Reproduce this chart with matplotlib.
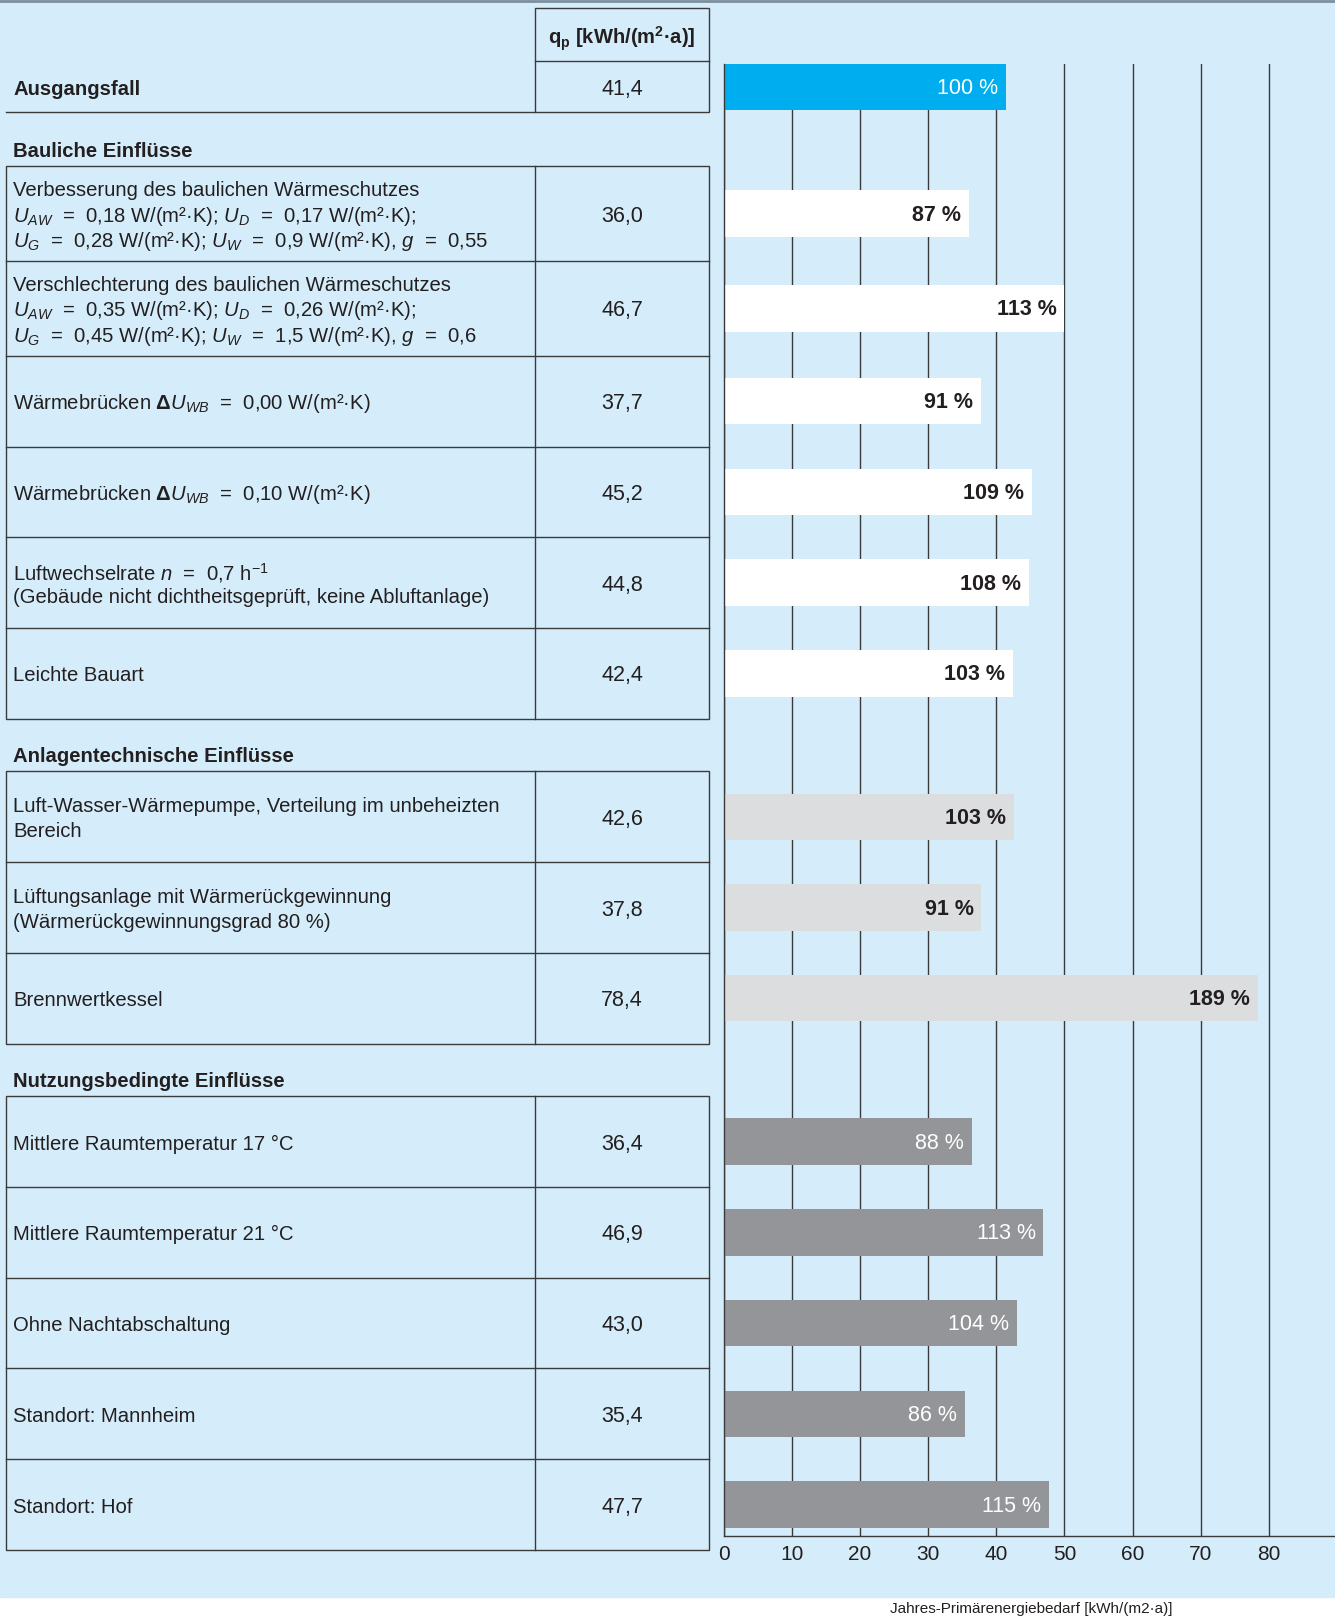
import matplotlib
matplotlib.use('Agg')
import matplotlib.pyplot as plt
from matplotlib.patches import Rectangle

plt.rcParams['font.family'] = ['Liberation Sans', 'DejaVu Sans']
plt.rcParams['mathtext.fontset'] = 'custom'
plt.rcParams['mathtext.rm'] = 'Liberation Sans'
plt.rcParams['mathtext.it'] = 'Liberation Sans:italic'
plt.rcParams['mathtext.bf'] = 'Liberation Sans:bold'

# ---- data ----
group_names = ['Ausgangsfall', 'Bauliche Einflüsse', 'Anlagentechnische Einflüsse',
               'Nutzungsbedingte Einflüsse']
row_lines = [
    ['Ausgangsfall'],
    ['Verbesserung des baulichen Wärmeschutzes',
     r'$U_{AW}$  =  0,18 W/(m²·K); $U_D$  =  0,17 W/(m²·K);',
     r'$U_G$  =  0,28 W/(m²·K); $U_W$  =  0,9 W/(m²·K), $g$  =  0,55'],
    ['Verschlechterung des baulichen Wärmeschutzes',
     r'$U_{AW}$  =  0,35 W/(m²·K); $U_D$  =  0,26 W/(m²·K);',
     r'$U_G$  =  0,45 W/(m²·K); $U_W$  =  1,5 W/(m²·K), $g$  =  0,6'],
    [r'Wärmebrücken $\mathbf{\Delta}U_{WB}$  =  0,00 W/(m²·K)'],
    [r'Wärmebrücken $\mathbf{\Delta}U_{WB}$  =  0,10 W/(m²·K)'],
    [r'Luftwechselrate $n$  =  0,7 h$^{\mathregular{-1}}$',
     '(Gebäude nicht dichtheitsgeprüft, keine Abluftanlage)'],
    ['Leichte Bauart'],
    ['Luft-Wasser-Wärmepumpe, Verteilung im unbeheizten', 'Bereich'],
    ['Lüftungsanlage mit Wärmerückgewinnung', '(Wärmerückgewinnungsgrad 80 %)'],
    ['Brennwertkessel'],
    ['Mittlere Raumtemperatur 17 °C'],
    ['Mittlere Raumtemperatur 21 °C'],
    ['Ohne Nachtabschaltung'],
    ['Standort: Mannheim'],
    ['Standort: Hof'],
]
qp = [41.4, 36.0, 46.7, 37.7, 45.2, 44.8, 42.4, 42.6, 37.8, 78.4, 36.4, 46.9, 43.0, 35.4, 47.7]
# bar lengths as drawn in the picture (the 113 % bar is drawn to ~50)
bar_len = [41.4, 36.0, 50.0, 37.7, 45.2, 44.8, 42.4, 42.6, 37.8, 78.4, 36.4, 46.9, 43.0, 35.4, 47.7]
pct = [100, 87, 113, 91, 109, 108, 103, 103, 91, 189, 88, 113, 104, 86, 115]
group = [0, 1, 1, 1, 1, 1, 1, 2, 2, 2, 3, 3, 3, 3, 3]
xticks = [0, 10, 20, 30, 40, 50, 60, 70, 80]

bar_col = ['#00AEEF', '#FFFFFF', '#DCDDDF', '#939598']
lab_col = ['white', '#231F20', '#231F20', 'white']
lab_wt = ['normal', 'bold', 'bold', 'normal']

bg = '#D5EDFA'
ink = '#231F20'
line = '#3A3A3A'

# ---- layout (in units of a 1295 x 1568 canvas) ----
W, H = 1295, 1568
xl, xm, xr = 6, 519, 688
ax_left = 702
ax_top, ax_bot = 62, 1489
dy = 2.5   # text baseline nudge
fs = 14.6

fig = plt.figure(figsize=(13.35, 16.17), dpi=100)
fig.patch.set_facecolor('white')
at = fig.add_axes([0, 0, 1, 1])
at.set_xlim(0, W)
at.set_ylim(H, 0)
at.axis('off')

at.add_patch(Rectangle((0, 0), W, 1549, color=bg, zorder=0))
at.plot([0, W], [0.8, 0.8], color='#7D8E9E', lw=2, zorder=1)

# header cell
at.add_patch(Rectangle((xm, 8), xr - xm, 101, fill=False, ec=line, lw=1.0, zorder=2))
at.plot([xm, xr], [59, 59], color=line, lw=1.0)
at.plot([xl, xm], [109, 109], color=line, lw=1.0)
at.text((xm + xr) / 2, 35 + dy, r'q$_\mathbf{p}$ [kWh/(m$^\mathbf{2}$·a)]', ha='center', va='center',
        fontsize=14.5, fontweight='bold', color=ink)


def fmt(v):
    return f'{v:.1f}'.replace('.', ',')


centers = []
# first row
centers.append(84)
at.text(13, 84 + dy, row_lines[0][0], ha='left', va='center', fontsize=fs, fontweight='bold', color=ink)
at.text((xm + xr) / 2, 84 + dy, fmt(qp[0]), ha='center', va='center', fontsize=15.5, color=ink)

y = 109
for g in range(1, 4):
    y += 52 if g == 1 else 51
    at.text(13, y - 17 + dy, group_names[g], ha='left', va='center', fontsize=fs,
            fontweight='bold', color=ink)
    top = y
    idx = [i for i in range(len(group)) if group[i] == g]
    for i in idx:
        h = 92 if len(row_lines[i]) == 3 else 88
        c = y + h / 2
        centers.append(c)
        n = len(row_lines[i])
        for k, t in enumerate(row_lines[i]):
            at.text(13, c + dy + (k - (n - 1) / 2) * 24.5, t, ha='left', va='center',
                    fontsize=fs, color=ink)
        at.text((xm + xr) / 2, c + dy, fmt(qp[i]), ha='center', va='center', fontsize=15.5, color=ink)
        y += h
        if i != idx[-1]:
            at.plot([xl, xr], [y, y], color=line, lw=1.0)
    at.add_patch(Rectangle((xl, top), xr - xl, y - top, fill=False, ec=line, lw=1.0, zorder=2))
    at.plot([xm, xm], [top, y], color=line, lw=1.0)

# ---- bar chart ----
ax = fig.add_axes([ax_left / W, 1 - ax_bot / H, 1 - ax_left / W, (ax_bot - ax_top) / H])
ax.patch.set_alpha(0)
ax.set_ylim(ax_bot, ax_top)
ax.set_xlim(0, (W - ax_left) / 6.61)
ax.barh(centers, bar_len, height=45, color=[bar_col[g] for g in group], zorder=2)
for c, v, p, g in zip(centers, bar_len, pct, group):
    ax.annotate(f'{p} %', xy=(v, c + 1.5), xytext=(-5.5, 0), textcoords='offset points',
                ha='right', va='center', fontsize=15.5, color=lab_col[g], fontweight=lab_wt[g],
                zorder=3)
ax.set_xticks(xticks)
ax.set_yticks([])
ax.tick_params(axis='x', length=0, pad=7, labelsize=15, labelcolor=ink)
ax.grid(axis='x', color=line, lw=1.0, zorder=0)
ax.set_axisbelow(True)
for s in ['top', 'right']:
    ax.spines[s].set_visible(False)
for s in ['left', 'bottom']:
    ax.spines[s].set_color(line)
    ax.spines[s].set_linewidth(1.0)

fig.text(1000 / W, 1 - 1553 / H, 'Jahres-Primärenergiebedarf [kWh/(m2·a)]', ha='center', va='top',
         fontsize=11, color=ink)

fig.savefig('out.png', dpi=100, facecolor='white')
